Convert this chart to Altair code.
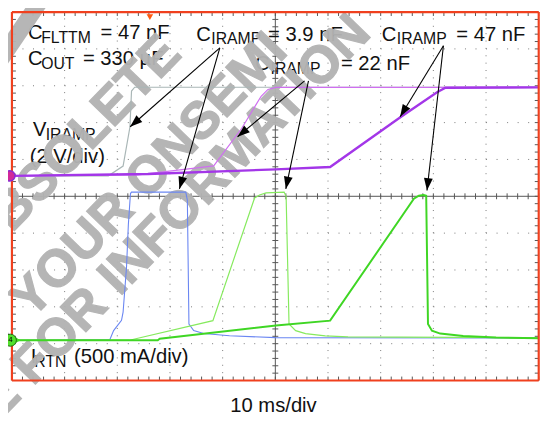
import math
import altair as alt
import pandas as pd
import numpy as np

# ---------------- data (time in ms, 10 ms/div; V at 2 V/div; I at 0.5 A/div) -------------
V_GROUND_DIV = 5.555   # screen division of the V_IRAMP ground marker
I_GROUND_DIV = 1.094   # screen division of the I_RTN ground marker (channel 4)
V_PER_DIV = 2.0
A_PER_DIV = 0.5

# V_IRAMP traces
v39_t = [0, 18.3, 21.1, 22.4, 22.7, 23.3, 100]
v39_v = [0, 0, 0.53, 2.65, 4.6, 4.81, 4.81]
v22_t = [0, 23.9, 38.3, 43.6, 47.3, 48.6, 50.1, 100]
v22_v = [0, 0.05, 0.54, 2.57, 4.32, 4.69, 4.80, 4.80]
v47_t = [0, 25.8, 50.1, 60.4, 73.8, 80.7, 82.3, 100]
v47_v = [0, 0.1, 0.35, 0.48, 3.19, 4.54, 4.78, 4.80]

# I_RTN traces (A)
i39_t = [0, 18.6, 19.3, 20.8, 21.1, 21.75, 22.1, 22.5, 22.7, 33.0, 33.3, 33.6, 34.5, 36.4, 41.3, 50.0, 100]
i39_i = [0, 0.01, 0.13, 0.27, 0.38, 0.99, 1.57, 1.99, 2.01, 2.01, 1.90, 0.22, 0.13, 0.09, 0.06, 0.035, 0.03]
i22_t = [0, 22.3, 38.15, 46.06, 47.0, 48.25, 51.67, 52.05, 52.6, 53.86, 55.73, 59.47, 63.8, 100]
i22_i = [0, 0, 0.265, 1.93, 1.97, 2.0, 2.01, 1.95, 0.22, 0.13, 0.09, 0.058, 0.045, 0.032]
i47_t = [0, 27.68, 28.05, 50.12, 60.4, 76.3, 77.24, 78.18, 78.64, 78.98, 79.73, 81.3, 85.66, 91.9, 100]
i47_i = [0, 0, 0.02, 0.2, 0.265, 1.92, 1.96, 1.97, 1.96, 0.22, 0.13, 0.09, 0.058, 0.036, 0.026]

# annotation text: (text, t, div, font size)
label_texts = ["C", "FLTTM", "= 47 nF",
               "C", "OUT", "= 330 µF",
               "C", "IRAMP", "= 3.9 nF",
               "C", "IRAMP", "= 22 nF",
               "C", "IRAMP", "= 47 nF",
               "V", "IRAMP", "(2 V/div)",
               "I", "RTN", "(500 mA/div)"]
label_t = [3.05, 5.55, 16.83,
           3.05, 5.55, 13.47,
           34.97, 37.85, 48.63,
           46.2, 49.1, 62.46,
           70.22, 73.05, 84.35,
           3.98, 6.40, 3.37,
           3.55, 4.25, 11.78]
label_y = [9.258, 9.166, 9.258,
           8.556, 8.464, 8.556,
           9.219, 9.126, 9.219,
           8.437, 8.331, 8.437,
           9.219, 9.126, 9.219,
           6.623, 6.517, 5.907,
           0.4636, 0.371, 0.4636]
label_size = [20.5, 16, 20.5,
              20.5, 16, 20.5,
              20.5, 16, 20.5,
              20.5, 16, 20.5,
              20.5, 16, 20.5,
              20.5, 16, 20.5,
              20.5, 16, 20.5]

time_label = ["10 ms/div"]
time_label_t = [49.65]
time_label_y = [-0.848]

# arrows (start -> tip), t in ms, y in div
arrow_t0 = [39.46, 39.46, 55.55, 56.29, 81.91, 81.91]
arrow_y0 = [9.03, 9.03, 8.132, 8.132, 9.086, 9.086]
arrow_t1 = [22.44, 31.79, 42.83, 51.99, 73.69, 78.79]
arrow_y1 = [6.887, 5.20, 6.615, 5.20, 7.16, 5.157]

# watermark
wm_text = ["OBSOLETE", "CONTACT YOUR ONSEMI", "REPRESENTATIVE FOR INFORMATION"]
wm_t = [30.37, 50.5, 66.35]
wm_y = [9.11, 9.185, 9.68]

# ---------------- geometry ----------------
W, H = 540, 415
XD = [-0.748, 100.243]
YD = [-1.0695, 10.0267]
PX_MS = W / (XD[1] - XD[0])
PX_DIV = H / (YD[1] - YD[0])

xs = alt.Scale(domain=XD, nice=False, zero=False)
ys = alt.Scale(domain=YD, nice=False, zero=False)


def X(f="t"):
    return alt.X(f"{f}:Q", scale=xs, axis=None)


def Y(f="y"):
    return alt.Y(f"{f}:Q", scale=ys, axis=None)


def rules(df, color, width=1, dash=None, opacity=1.0, cap="butt"):
    kw = dict(color=color, strokeWidth=width, opacity=opacity, strokeCap=cap)
    if dash:
        kw["strokeDash"] = dash
    return alt.Chart(df).mark_rule(**kw).encode(
        x=X("t0"), x2="t1", y=Y("y0"), y2="y1")


layers = []

# dotted grid
gx = [10, 20, 30, 40, 60, 70, 80, 90]
gy = [1, 2, 3, 4, 6, 7, 8, 9]
layers.append(rules(pd.DataFrame({"t0": gx, "t1": gx, "y0": 0, "y1": 10}),
                    "#7a7a7a", 1, [1, PX_DIV / 5 - 1]))
layers.append(rules(pd.DataFrame({"t0": 0, "t1": 100, "y0": gy, "y1": gy}),
                    "#7a7a7a", 1, [1, PX_MS * 2 - 1]))
# centre cross
layers.append(rules(pd.DataFrame({"t0": [50, 0], "t1": [50, 100], "y0": [0, 5], "y1": [10, 5]}),
                    "#555555", 1))
tick_t = np.arange(0, 100.01, 2.0)
tick_y = np.arange(0, 10.001, 0.2)
tl = 4 / PX_MS
tv = 4 / PX_DIV
ticks = pd.concat([
    pd.DataFrame({"t0": tick_t, "t1": tick_t, "y0": 0, "y1": tv}),
    pd.DataFrame({"t0": tick_t, "t1": tick_t, "y0": 10 - tv, "y1": 10}),
    pd.DataFrame({"t0": 0, "t1": tl, "y0": tick_y, "y1": tick_y}),
    pd.DataFrame({"t0": 100 - tl, "t1": 100, "y0": tick_y, "y1": tick_y}),
    pd.DataFrame({"t0": tick_t, "t1": tick_t, "y0": 5 - 3 / PX_DIV, "y1": 5 + 3 / PX_DIV}),
    pd.DataFrame({"t0": 50 - 3 / PX_MS, "t1": 50 + 3 / PX_MS, "y0": tick_y, "y1": tick_y}),
])
layers.append(rules(ticks, "#555555", 1))

# annotation labels
lab = pd.DataFrame({"label": label_texts, "t": label_t, "y": label_y, "size": label_size})
layers.append(alt.Chart(lab).mark_text(align="left", baseline="alphabetic",
                                       font="Liberation Sans", color="#111111").encode(
    x=X(), y=Y(), text="label:N", size=alt.Size("size:Q", scale=None, legend=None)))
layers.append(alt.Chart(pd.DataFrame({"label": time_label, "t": time_label_t, "y": time_label_y}))
              .mark_text(align="center", baseline="alphabetic", font="Liberation Sans",
                         fontSize=20.5, color="#111111")
              .encode(x=X(), y=Y(), text="label:N"))

# watermark
wm = pd.DataFrame({"label": wm_text, "t": wm_t, "y": wm_y})
layers.append(alt.Chart(wm).mark_text(align="right", baseline="middle", angle=314,
                                      font="Liberation Sans", fontWeight="bold", fontSize=53,
                                      color="#b3b3b3", stroke="#b3b3b3", strokeWidth=1.2,
                                      opacity=0.96)
              .encode(x=X(), y=Y(), text="label:N"))
bar = pd.DataFrame({"t0": [-2.6], "t1": [5.6], "y0": [8.62], "y1": [10.35]})
layers.append(rules(bar, "#b3b3b3", 17, opacity=0.96))


def trace(t, vals, ground, per_div, color, width):
    df = pd.DataFrame({"t": t, "val": vals})
    df["y"] = ground + df["val"] / per_div
    return alt.Chart(df).mark_line(color=color, strokeWidth=width,
                                   interpolate="linear").encode(x=X(), y=Y(), order="t:Q")


layers.append(trace(v39_t, v39_v, V_GROUND_DIV, V_PER_DIV, "#a9b6b6", 1.2))
layers.append(trace(v22_t, v22_v, V_GROUND_DIV, V_PER_DIV, "#cf6ff0", 1.2))
layers.append(trace(v47_t, v47_v, V_GROUND_DIV, V_PER_DIV, "#a336e8", 2.4))
layers.append(trace(i39_t, i39_i, I_GROUND_DIV, A_PER_DIV, "#6a86f2", 1.1))
layers.append(trace(i22_t, i22_i, I_GROUND_DIV, A_PER_DIV, "#86ea5e", 1.2))
layers.append(trace(i47_t, i47_i, I_GROUND_DIV, A_PER_DIV, "#3fd624", 2.0))

# red frame
frame = pd.DataFrame({"t0": [0, 0, 0, 100], "t1": [100, 100, 0, 100],
                      "y0": [0, 10, 0, 0], "y1": [0, 10, 10, 10]})
layers.append(rules(frame, "#f0401e", 2.2))

# arrows
arr = pd.DataFrame({"t0": arrow_t0, "y0": arrow_y0, "t1": arrow_t1, "y1": arrow_y1})
arr["ang"] = [
    (math.degrees(math.atan2((b - a) * PX_MS, (d - c) * PX_DIV)) + 360) % 360
    for a, b, c, d in zip(arr.t0, arr.t1, arr.y0, arr.y1)
]
layers.append(rules(arr, "#000000", 1.1))
layers.append(alt.Chart(arr).mark_point(shape="M0,0L0.36,1L-0.36,1Z", filled=True,
                                        color="#000000", opacity=1, size=620)
              .encode(x=X("t1"), y=Y("y1"), angle=alt.Angle("ang:Q", scale=None)))

# channel / trigger markers
layers.append(alt.Chart(pd.DataFrame({"t": [-0.4], "y": [V_GROUND_DIV]}))
              .mark_point(shape="circle", filled=True, size=110, color="#d1289a",
                          stroke="#8a2bd0", strokeWidth=1.5, opacity=1)
              .encode(x=X(), y=Y()))
layers.append(alt.Chart(pd.DataFrame({"t": [1.1], "y": [I_GROUND_DIV]}))
              .mark_point(shape="triangle-right", filled=True, size=40, color="#44dd22", opacity=1)
              .encode(x=X(), y=Y()))
layers.append(alt.Chart(pd.DataFrame({"t": [-0.3], "y": [I_GROUND_DIV]}))
              .mark_point(shape="circle", filled=True, size=150, color="#52e02c",
                          stroke="#1f6a10", strokeWidth=1, opacity=1)
              .encode(x=X(), y=Y()))
layers.append(alt.Chart(pd.DataFrame({"t": [-0.3], "y": [I_GROUND_DIV], "label": ["4"]}))
              .mark_text(fontSize=8, font="Liberation Sans", color="#000000",
                         align="center", baseline="middle")
              .encode(x=X(), y=Y(), text="label:N"))
layers.append(alt.Chart(pd.DataFrame({"t": [26.18], "y": [9.86]}))
              .mark_point(shape="triangle-down", filled=True, size=45, color="#ff5a10", opacity=1)
              .encode(x=X(), y=Y()))

chart = alt.layer(*layers).properties(
    width=W, height=H, autosize=alt.AutoSizeParams(type="none"), padding=0,
    background="white",
).configure_view(stroke=None)

chart.save("out.html", embed_options={"renderer": "svg", "actions": False})
